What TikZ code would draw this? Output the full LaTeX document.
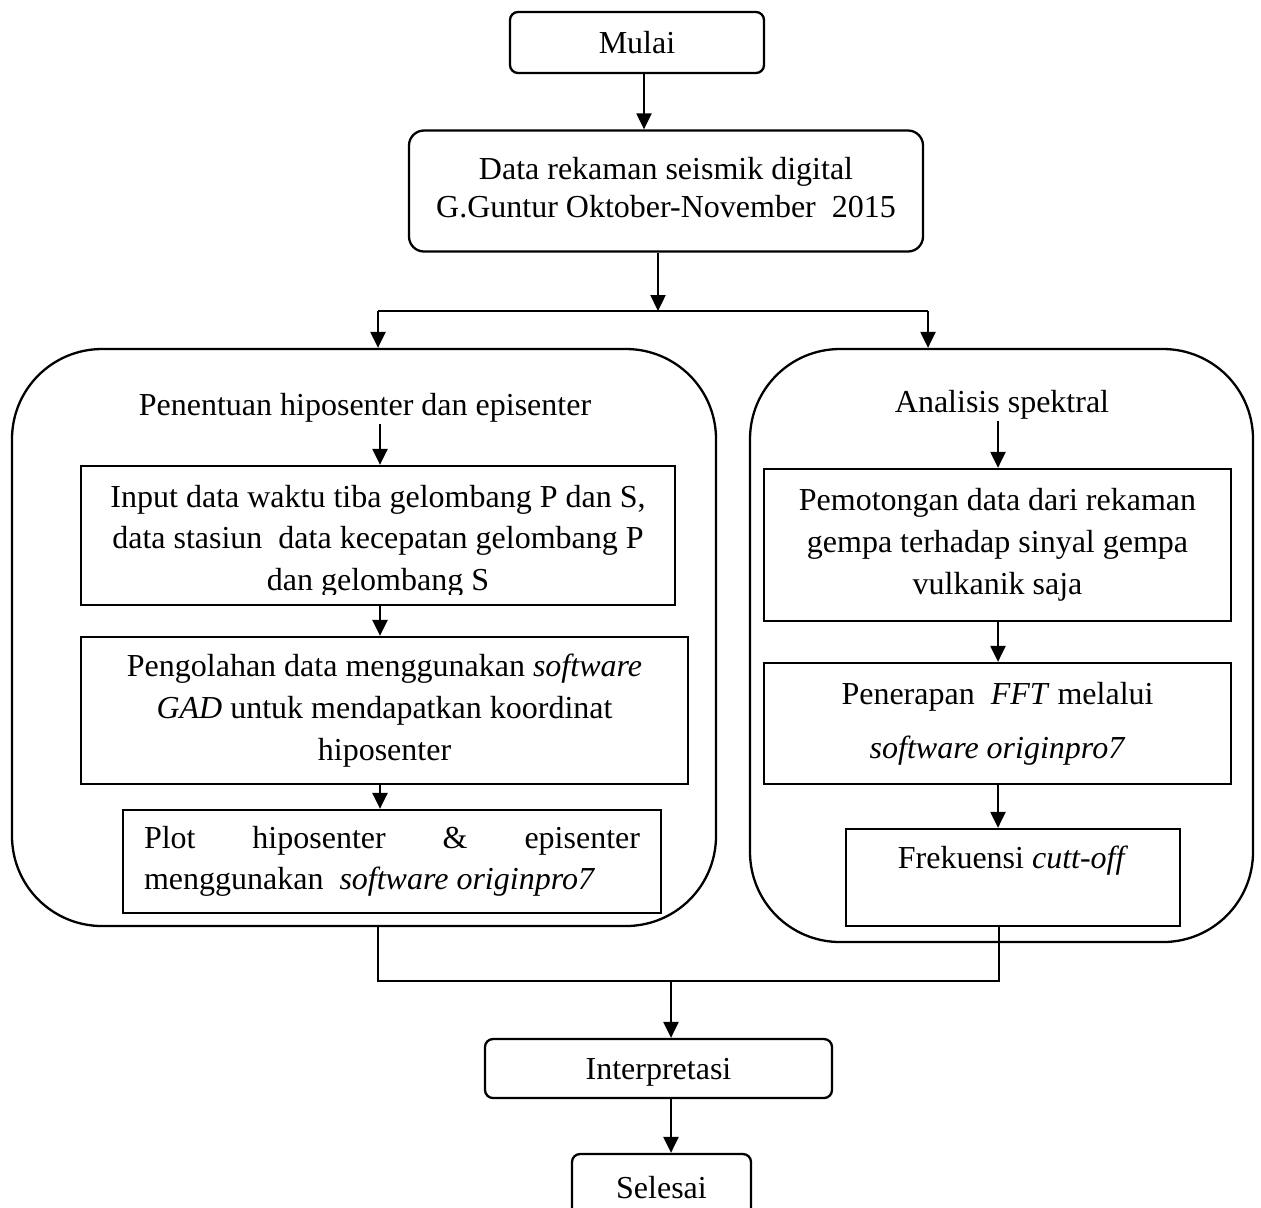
\documentclass[tikz,border=0pt]{standalone}
\usepackage{fontspec}
\setmainfont{Liberation Serif}
\usepackage{tikz}
\usetikzlibrary{arrows.meta}
\newcommand{\txtsize}[1]{\fontsize{16}{#1}\selectfont}

\begin{document}
\begin{tikzpicture}[x=0.5pt, y=-0.5pt, line width=1.15pt,
	every node/.style={font=\txtsize{19pt}, inner sep=0pt},
	>={Triangle[length=8pt, width=7.5pt]},
	box/.style={draw, align=center},
	terminal/.style={box, rounded corners=4pt},
	group/.style={draw, rounded corners=45pt}]
	\useasboundingbox (0,0) rectangle (1261,1207);
	\clip (0,0) rectangle (1261,1207);
	\node[terminal, minimum width=127pt, minimum height=30.5pt] (mulai) at (637,42.5) {Mulai};
	\node[box, rounded corners=7.5pt, minimum width=257pt, minimum height=60.5pt, text depth=4pt] (data) at (666,191) {Data rekaman seismik digital\\G.Guntur Oktober-November\ \ 2015};
	\node[group, minimum width=352pt, minimum height=288.5pt] (hypo) at (364,637.5) {};
	\node[group, minimum width=251.5pt, minimum height=296.5pt] (spek) at (1001.5,645.5) {};
	\node (hypolabel) at (365,408) {Penentuan hiposenter dan episenter};
	\node (speklabel) at (1002,405) {Analisis spektral};
	\node[box, minimum width=297pt, minimum height=69.5pt] (input) at (378,535.5) {};
	\begin{scope}
		\clip (input.north west) rectangle ([yshift=6pt]input.south east);
		\node[align=center, font=\txtsize{20.75pt}] (inputtext) at (378,541) {Input data waktu tiba gelombang P dan S,\\data stasiun\ \ data kecepatan gelombang P\\dan gelombang S};
	\end{scope}
	\node[box, minimum width=303.5pt, minimum height=73.5pt, font=\txtsize{21pt}] (olah) at (384.5,710.5) {Pengolahan data menggunakan \textit{software}\\\textit{GAD} untuk mendapatkan koordinat\\hiposenter};
	\node[box, minimum width=269pt, minimum height=51.5pt, text width=248pt, align=justify, font=\txtsize{20.5pt}] (plot) at (392,861.5) {Plot hiposenter \& episenter\linebreak menggunakan\ \ \textit{software originpro7}};
	\node[box, minimum width=233.5pt, minimum height=76pt, font=\txtsize{21pt}] (potong) at (997.5,545) {Pemotongan data dari rekaman\\gempa terhadap sinyal gempa\\vulkanik saja};
	\node[box, minimum width=233.5pt, minimum height=60.5pt, font=\txtsize{27pt}] (fft) at (997.5,723.5) {Penerapan\ \ \textit{FFT} melalui\\\textit{software originpro7}};
	\node[box, minimum width=167pt, minimum height=48.5pt, text height=11pt, text depth=20.5pt] (frek) at (1013,877.5) {Frekuensi \textit{cutt-off}};
	\node[terminal, minimum width=173.5pt, minimum height=29.5pt, text depth=0pt] (interp) at (658.5,1068.5) {Interpretasi};
	\node[terminal, minimum width=89.5pt, minimum height=34pt] (selesai) at (661.5,1188) {Selesai};
	\coordinate (split) at (658,311);
	\coordinate (splitL) at (378,311);
	\coordinate (splitR) at (928,311);
	\coordinate (colL) at (380,0);
	\coordinate (colR) at (998,0);
	\coordinate (join) at (671,981);
	\coordinate (joinL) at (378,981);
	\coordinate (joinR) at (999,981);
	\draw[->] ([xshift=3.5pt]mulai.south) -- ([xshift=3.5pt]mulai.south |- data.north);
	\draw[->] (data.south -| split) -- (split);
	\draw (splitL) -- (splitR);
	\draw[->] (splitL) -- (splitL |- hypo.north);
	\draw[->] (splitR) -- (splitR |- spek.north);
	\draw[->] (hypolabel.south -| colL) -- (input.north -| colL);
	\draw[->] (input.south -| colL) -- (olah.north -| colL);
	\draw[->] (olah.south -| colL) -- (plot.north -| colL);
	\draw[->] (speklabel.south -| colR) -- (potong.north -| colR);
	\draw[->] (potong.south -| colR) -- (fft.north -| colR);
	\draw[->] (fft.south -| colR) -- (frek.north -| colR);
	\draw (hypo.south -| joinL) -- (joinL) -- (joinR) -- (frek.south -| joinR);
	\draw[->] (join) -- (join |- interp.north);
	\draw[->] (interp.south -| join) -- (selesai.north -| join);
\end{tikzpicture}
\end{document}
